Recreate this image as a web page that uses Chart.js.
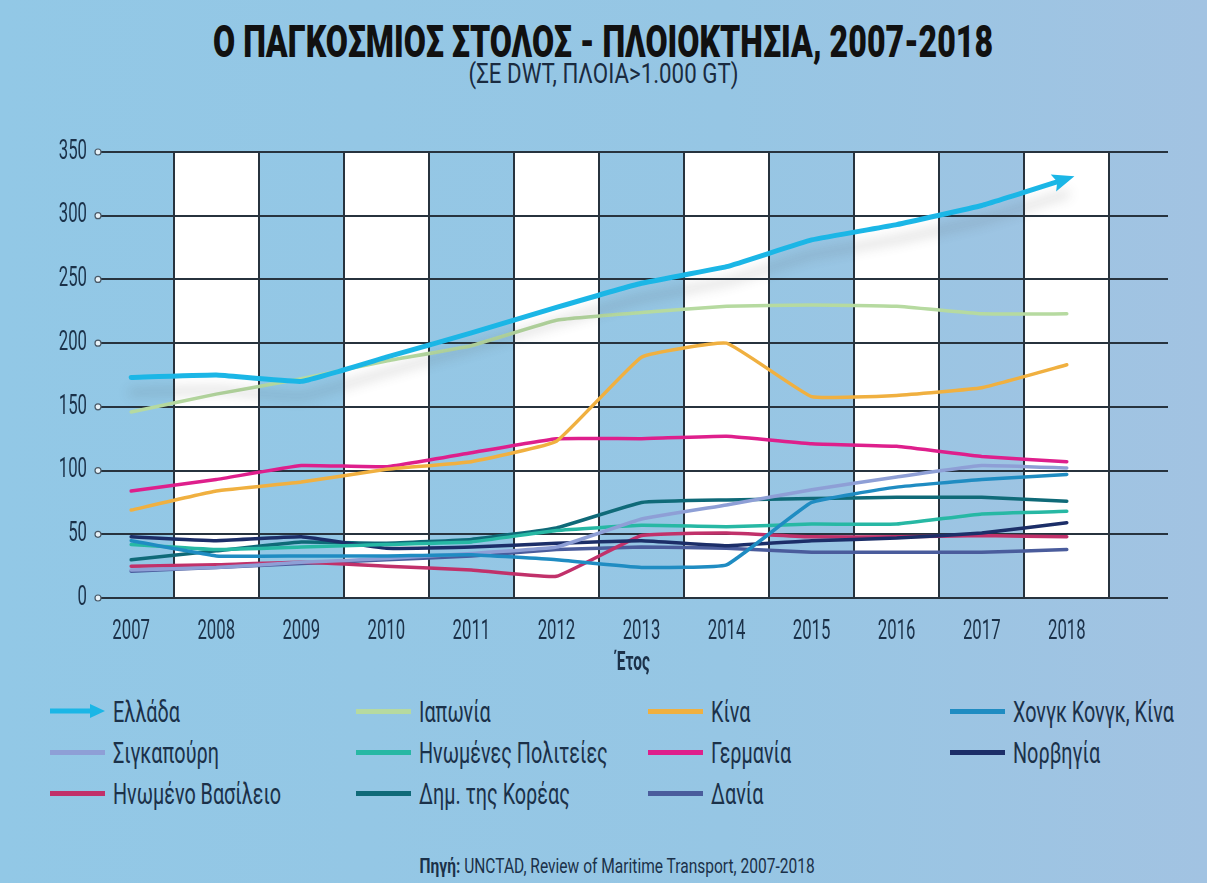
<!DOCTYPE html>
<html lang="el">
<head>
<meta charset="utf-8">
<script src="https://cdn.jsdelivr.net/npm/chart.js@4.4.1/dist/chart.umd.min.js"></script>
<style>
  html, body { margin: 0; padding: 0; }
  body {
    width: 1207px; height: 883px; overflow: hidden; position: relative;
    background: linear-gradient(90deg, #92c8e6 0%, #96c6e4 60%, #a2c3e2 100%);
    font-family: Roboto, 'Noto Sans', sans-serif;
    color: #1b3149;
  }
  .centrado { position: absolute; left: 0; width: 1207px; text-align: center; white-space: nowrap; }
  .centrado span { display: inline-block; transform-origin: center center; }
  #titulo { top: 15px; font-weight: 900; font-size: 45px; color: #111; }
  #subtitulo { top: 58px; font-size: 27px; color: #1a2b40; }
  #fuente { top: 854px; font-size: 21px; color: #1b3149; }
  #marco { position: absolute; top: 130px; left: 0; width: 1207px; height: 555px; }
  .item {
    position: absolute; height: 30px; display: flex; align-items: center;
    font-size: 30px; white-space: nowrap; color: #1b3149;
  }
  .item .txt { display: inline-block; transform-origin: left center; }
  .muestra { display: inline-block; width: 55px; height: 5px; margin-right: 8px; }
</style>
</head>
<body>
<div id="titulo" class="centrado"><span>Ο ΠΑΓΚΟΣΜΙΟΣ ΣΤΟΛΟΣ - ΠΛΟΙΟΚΤΗΣΙΑ, 2007-2018</span></div>
<div id="subtitulo" class="centrado"><span>(ΣΕ DWT, ΠΛΟΙΑ&gt;1.000 GT)</span></div>
<div id="marco"><canvas id="grafico" width="1207" height="555"></canvas></div>
<div id="leyenda"></div>
<div id="fuente" class="centrado" style="left:14px"><span><b>Πηγή:</b> UNCTAD, Review of Maritime Transport, 2007-2018</span></div>

<script>
// Datos (millones de DWT)
const anios = [2007, 2008, 2009, 2010, 2011, 2012, 2013, 2014, 2015, 2016, 2017, 2018];
const valoresEje = [0, 50, 100, 150, 200, 250, 300, 350];

const grecia      = [173, 175, 170, 189, 208, 228, 247, 260, 281, 293, 308, 329];
const japon       = [146, 160, 172, 186, 198, 218, 224, 229, 230, 229, 223, 223];
const china       = [69, 84, 91, 101, 107, 123, 189, 200, 158, 159, 165, 183];
const hongKong    = [45, 33, 33, 33, 34, 30, 24, 26, 75, 87, 93, 97];
const singapur    = [22, 24, 28, 31, 35, 40, 62, 73, 85, 95, 104, 102];
const eeuu        = [42, 38, 40, 42, 44, 53, 57, 56, 58, 58, 66, 68];
const alemania    = [84, 93, 104, 103, 114, 125, 125, 127, 121, 119, 111, 107];
const noruega     = [48, 45, 48, 39, 40, 43, 45, 41, 45, 47, 51, 59];
const reinoUnido  = [25, 26, 28, 25, 22, 17, 49, 51, 48, 48, 49, 48];
const corea       = [30, 37, 44, 43, 46, 55, 75, 77, 78, 79, 79, 76];
const dinamarca   = [21, 24, 27, 30, 33, 38, 40, 39, 36, 36, 36, 38];

const nombres = ['Ελλάδα', 'Ιαπωνία', 'Κίνα', 'Χονγκ Κονγκ, Κίνα', 'Σιγκαπούρη', 'Ηνωμένες Πολιτείες',
                 'Γερμανία', 'Νορβηγία', 'Ηνωμένο Βασίλειο', 'Δημ. της Κορέας', 'Δανία'];
const series  = [grecia, japon, china, hongKong, singapur, eeuu, alemania, noruega, reinoUnido, corea, dinamarca];
const colores = ['#1bb6e6', '#b6daa0', '#f0b040', '#1f8cc2', '#8e9fd6', '#27b8a4',
                 '#de1f8c', '#1c2e68', '#c1316a', '#0f6a78', '#4a5c9c'];

const fuente = "Roboto, 'Noto Sans', sans-serif";
const colorTexto = '#1b3149';
const colorRejilla = '#27333e';
const ESTRECHO = 0.62;   // la tipografía original es muy condensada

// Ajusta el ancho de un texto HTML estrechándolo
function estrechar(el, anchoObjetivo) {
    el.style.transform = `scaleX(${anchoObjetivo / el.offsetWidth})`;
}
estrechar(document.querySelector('#titulo span'), 780);
estrechar(document.querySelector('#subtitulo span'), 270);
estrechar(document.querySelector('#fuente span'), 395);

// Leyenda en 4 columnas
const columnasX = [50, 356, 648, 950];
const filasY = [696, 737, 778];
const leyenda = document.getElementById('leyenda');
nombres.forEach((n, i) => {
    const div = document.createElement('div');
    div.className = 'item';
    div.style.left = columnasX[i % 4] + 'px';
    div.style.top = filasY[Math.floor(i / 4)] + 'px';
    let muestra;
    if (i === 0) {
        muestra = `<svg width="55" height="16" style="margin-right:8px"><line x1="0" y1="8" x2="42" y2="8" stroke="${colores[i]}" stroke-width="5"/><polygon points="55,8 40,1 40,15" fill="${colores[i]}"/></svg>`;
    } else {
        muestra = `<span class="muestra" style="background:${colores[i]}"></span>`;
    }
    div.innerHTML = muestra + `<span class="txt" style="transform:scaleX(0.66)">${n}</span>`;
    leyenda.appendChild(div);
});

// Columnas blancas alternas (bajo la rejilla)
const bandas = {
    id: 'bandas',
    beforeDraw(chart) {
        const { ctx, chartArea, scales: { x } } = chart;
        ctx.save();
        ctx.fillStyle = '#ffffff';
        anios.forEach((a, i) => {
            if (i % 2 === 1) {
                const x0 = x.getPixelForValue(a - 0.5);
                const x1 = x.getPixelForValue(a + 0.5);
                ctx.fillRect(x0, chartArea.top, x1 - x0, chartArea.bottom - chartArea.top);
            }
        });
        ctx.restore();
    }
};

// Sombra bajo la línea de Grecia
const sombra = {
    id: 'sombra',
    beforeDatasetDraw(chart, args) {
        if (args.index !== 0) return;
        const ctx = chart.ctx;
        ctx.save();
        ctx.shadowColor = 'rgba(70, 70, 70, 0.25)';
        ctx.shadowBlur = 12;
        ctx.shadowOffsetY = 15;
    },
    afterDatasetDraw(chart, args) {
        if (args.index !== 0) return;
        chart.ctx.restore();
    }
};

// Flecha al final de Grecia y circulitos en la rejilla
const adornos = {
    id: 'adornos',
    afterDatasetsDraw(chart) {
        const { ctx, chartArea, scales: { y } } = chart;
        const pts = chart.getDatasetMeta(0).data;
        const p = pts[pts.length - 1], q = pts[pts.length - 2];
        const ang = Math.atan2(p.y - q.y, p.x - q.x);
        ctx.save();
        ctx.translate(p.x, p.y);
        ctx.rotate(ang);
        ctx.fillStyle = colores[0];
        ctx.beginPath();
        ctx.moveTo(8, 0);
        ctx.lineTo(-14, -9);
        ctx.lineTo(-10, 0);
        ctx.lineTo(-14, 9);
        ctx.closePath();
        ctx.fill();
        ctx.restore();

        ctx.save();
        ctx.fillStyle = '#e8f2f8';
        ctx.strokeStyle = '#4a5a68';
        ctx.lineWidth = 1.2;
        y.ticks.forEach(t => {
            ctx.beginPath();
            ctx.arc(chartArea.left, y.getPixelForValue(t.value), 3, 0, Math.PI * 2);
            ctx.fill();
            ctx.stroke();
        });
        ctx.restore();
    }
};

const ctx = document.getElementById('grafico').getContext('2d');
// Texto del lienzo estrechado horizontalmente alrededor de su punto de anclaje
const fillTextOriginal = ctx.fillText.bind(ctx);
ctx.fillText = function (texto, x, y) {
    this.save();
    this.translate(x, y);
    this.scale(ESTRECHO, 1);
    fillTextOriginal(texto, 0, 0);
    this.restore();
};

new Chart(ctx, {
    type: 'line',
    data: {
        labels: anios,
        datasets: series.map((s, i) => ({
            label: nombres[i],
            data: s,
            borderColor: colores[i],
            borderWidth: i === 0 ? 5 : 3.5,
            pointRadius: 0,
            fill: false,
            tension: 0.1,
            borderCapStyle: 'round'
        }))
    },
    options: {
        responsive: false,
        animation: false,
        layout: { padding: { left: 0, right: 39, top: 22, bottom: 0 } },
        plugins: { legend: { display: false }, tooltip: { enabled: false } },
        scales: {
            x: {
                type: 'linear',
                min: 2006.61,
                max: 2019.19,
                afterBuildTicks: s => { s.ticks = anios.map(v => ({ value: v })); },
                afterFit: s => { s.height = 87; },
                grid: { offset: true, color: colorRejilla, lineWidth: 2, drawTicks: false },
                border: { display: false },
                ticks: {
                    color: colorTexto, autoSkip: false, maxRotation: 0, padding: 18,
                    font: { family: fuente, size: 27 },
                    callback: v => String(v)
                },
                title: {
                    display: true, text: 'Έτος', color: colorTexto,
                    font: { family: fuente, size: 25, weight: 'bold' },
                    padding: { top: 0, bottom: 6 }
                }
            },
            y: {
                min: 0,
                max: 350,
                afterBuildTicks: s => { s.ticks = valoresEje.map(v => ({ value: v })); },
                afterFit: s => { s.width = 98; s.paddingTop = 0; s.paddingBottom = 0; },
                grid: { color: colorRejilla, lineWidth: 2, drawTicks: false },
                border: { display: false },
                ticks: {
                    color: colorTexto, padding: 11,
                    font: { family: fuente, size: 27 }
                }
            }
        }
    },
    plugins: [bandas, sombra, adornos]
});
</script>
</body>
</html>
